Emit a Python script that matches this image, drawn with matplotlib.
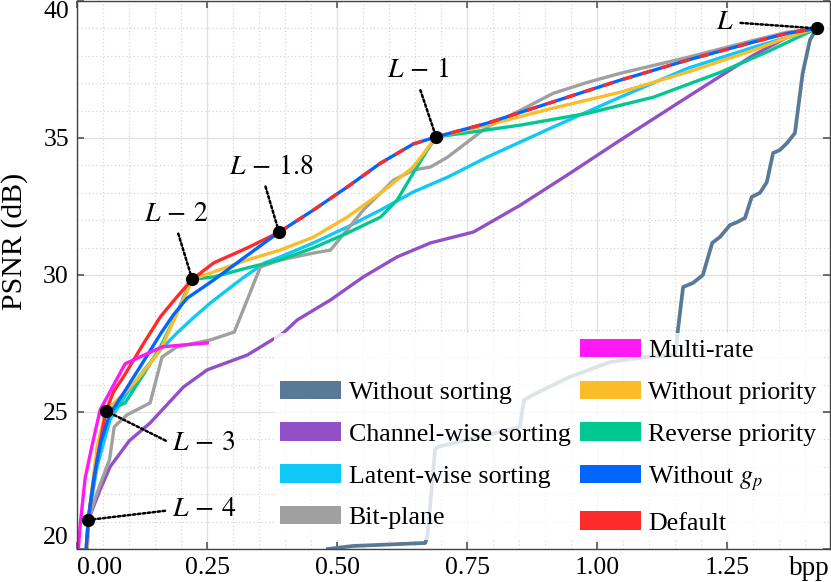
import numpy as np
import matplotlib
matplotlib.use("Agg")
import matplotlib.pyplot as plt
from matplotlib.patches import Patch

plt.rcParams['font.family'] = ['Liberation Serif', 'DejaVu Serif']
plt.rcParams['mathtext.fontset'] = 'stix'

# ---------------- data ----------------
default_x = [0.017, 0.021, 0.028, 0.038, 0.055, 0.070, 0.089, 0.128, 0.160, 0.192, 0.221,
             0.262, 0.327, 0.388, 0.454, 0.519, 0.583, 0.646, 0.690, 0.788, 0.915,
             1.044, 1.173, 1.300, 1.365, 1.422]
default_y = [20.0, 21.06, 22.04, 23.25, 25.04, 25.75, 26.29, 27.52, 28.48, 29.21, 29.84,
             30.44, 30.99, 31.56, 32.37, 33.21, 34.08, 34.78, 35.04, 35.54, 36.32,
             37.11, 37.84, 38.50, 38.82, 39.0]

gp_x = [0.017, 0.021, 0.032, 0.045, 0.062, 0.096, 0.129, 0.160, 0.185, 0.211, 0.261,
        0.327, 0.388, 0.454, 0.519, 0.583, 0.646, 0.690, 0.788, 0.915,
        1.044, 1.173, 1.300, 1.365, 1.422]
gp_y = [20.0, 21.06, 22.6, 23.9, 24.9, 25.9, 26.9, 27.85, 28.55, 29.15, 29.8,
        30.72, 31.56, 32.37, 33.21, 34.08, 34.78, 35.04, 35.54, 36.32,
        37.11, 37.84, 38.50, 38.82, 39.0]

nopri_x = [0.019, 0.021, 0.038, 0.055, 0.077, 0.115, 0.160, 0.192, 0.215, 0.221, 0.262,
           0.327, 0.390, 0.454, 0.519, 0.583, 0.646, 0.690, 0.788, 0.915, 1.044,
           1.173, 1.300, 1.365, 1.422]
nopri_y = [20.09, 21.06, 23.73, 25.04, 25.44, 26.17, 27.27, 28.62, 29.56, 29.84, 30.11,
           30.55, 30.91, 31.38, 32.11, 32.99, 33.94, 35.04, 35.47, 36.09, 36.67,
           37.40, 38.20, 38.67, 39.0]

revpri_x = [0.019, 0.021, 0.038, 0.055, 0.092, 0.129, 0.160, 0.192, 0.217, 0.221, 0.262,
            0.327, 0.390, 0.454, 0.519, 0.583, 0.615, 0.646, 0.673, 0.690, 0.756,
            0.852, 0.981, 1.108, 1.237, 1.333, 1.422]
revpri_y = [20.0, 21.06, 23.44, 25.04, 25.33, 26.43, 27.38, 28.62, 29.75, 29.84, 29.93,
            30.26, 30.55, 30.99, 31.53, 32.11, 32.73, 33.72, 34.56, 35.04, 35.21,
            35.47, 35.90, 36.49, 37.40, 38.20, 39.0]

latent_x = [0.019, 0.021, 0.038, 0.063, 0.096, 0.129, 0.160, 0.192, 0.225, 0.256, 0.288,
            0.321, 0.360, 0.390, 0.454, 0.519, 0.583, 0.646, 0.712, 0.788, 0.915,
            1.044, 1.173, 1.300, 1.365, 1.422]
latent_y = [20.0, 21.06, 23.0, 24.72, 25.70, 26.54, 27.27, 27.89, 28.47, 28.98, 29.45,
            29.93, 30.44, 30.66, 31.17, 31.75, 32.37, 33.03, 33.57, 34.30, 35.40,
            36.49, 37.54, 38.31, 38.67, 39.0]

bitplane_x = [0.019, 0.021, 0.038, 0.062, 0.071, 0.096, 0.140, 0.163, 0.192, 0.256, 0.302,
              0.352, 0.390, 0.454, 0.487, 0.550, 0.608, 0.646, 0.679, 0.712, 0.788,
              0.852, 0.915, 0.981, 1.044, 1.173, 1.300, 1.365, 1.422]
bitplane_y = [20.0, 21.06, 22.05, 23.26, 24.46, 24.90, 25.33, 27.01, 27.38, 27.63, 27.92,
              30.29, 30.55, 30.80, 30.91, 32.37, 33.46, 33.83, 33.94, 34.30, 35.40,
              36.01, 36.63, 37.03, 37.36, 37.94, 38.56, 38.86, 39.0]

channel_x = [0.021, 0.044, 0.063, 0.100, 0.140, 0.204, 0.250, 0.327, 0.396, 0.423, 0.487,
             0.550, 0.615, 0.679, 0.762, 0.852, 0.948, 1.044, 1.173, 1.300, 1.365, 1.422]
channel_y = [21.06, 22.17, 23.0, 23.95, 24.60, 25.91, 26.54, 27.08, 27.88, 28.36, 29.09,
             29.93, 30.66, 31.17, 31.57, 32.55, 33.72, 34.92, 36.49, 38.02, 38.67, 39.0]

multirate_x = [0.002, 0.006, 0.015, 0.029, 0.044, 0.092, 0.163, 0.250]
multirate_y = [20.0, 20.96, 22.58, 23.83, 25.08, 26.76, 27.38, 27.52]

nosort_x = [0.482, 0.530, 0.669, 0.673, 0.688, 0.692, 0.715, 0.851, 0.859, 0.880, 0.947,
            1.024, 1.094, 1.150, 1.155, 1.165, 1.184, 1.203, 1.221, 1.236, 1.255,
            1.269, 1.284, 1.297, 1.313, 1.326, 1.338, 1.351, 1.365, 1.380, 1.395,
            1.409, 1.422]
nosort_y = [20.0, 20.11, 20.22, 20.44, 23.61, 23.72, 23.83, 24.45, 25.44, 25.66, 26.28,
            26.82, 27.01, 27.08, 27.99, 29.56, 29.71, 30.0, 31.17, 31.39, 31.82,
            31.93, 32.08, 32.85, 33.0, 33.39, 34.45, 34.56, 34.82, 35.18, 37.37,
            38.58, 39.0]

point_labels = [r'$L$', r'$L\,-\,1$', r'$L\,-\,1.8$', r'$L\,-\,2$', r'$L\,-\,3$', r'$L\,-\,4$']
point_x = [1.422, 0.690, 0.388, 0.221, 0.055, 0.021]
point_y = [39.0, 35.04, 31.56, 29.84, 25.04, 21.06]

xticks = [0.0, 0.25, 0.5, 0.75, 1.0, 1.25]
yticks = [20, 25, 30, 35, 40]

# ---------------- styling ----------------
C_NOSORT = '#587a96'
C_CHAN = '#9150c8'
C_LAT = '#10c8f8'
C_BIT = '#a0a0a0'
C_MR = '#ff19f5'
C_NOPRI = '#fbbc2a'
C_REV = '#00c890'
C_GP = '#0066ff'
C_DEF = '#ff2a2a'
LW = 2.4

fig = plt.figure(figsize=(8.31, 5.82), dpi=100)
W, H = 831, 582
ax = fig.add_axes([77.3 / W, (H - 549) / H, (830 - 77.3) / W, 548 / H])

ax.set_xlim(0, 1.4475)
ax.set_ylim(20, 40)

ax.plot(nosort_x, nosort_y, color=C_NOSORT, lw=LW + 0.3, zorder=2)
ax.plot(channel_x, channel_y, color=C_CHAN, lw=LW, zorder=2)
ax.plot(latent_x, latent_y, color=C_LAT, lw=LW, zorder=2)
ax.plot(bitplane_x, bitplane_y, color=C_BIT, lw=LW, zorder=2)
ax.plot(revpri_x, revpri_y, color=C_REV, lw=LW, zorder=2)
ax.plot(nopri_x, nopri_y, color=C_NOPRI, lw=LW, zorder=2)

dx = np.array(default_x)
dy = np.array(default_y)
split = point_x[2]
low = dx <= split
high = dx >= split
ax.plot(dx[low], dy[low], color=C_DEF, lw=LW, zorder=2)
ax.plot(gp_x, gp_y, color=C_GP, lw=LW, zorder=2)
ax.plot(dx[high], dy[high], color=C_DEF, lw=LW, zorder=2, dashes=(3.0, 3.0))
ax.plot(multirate_x, multirate_y, color=C_MR, lw=LW, zorder=2)

ax.plot(point_x, point_y, 'o', color='black', ms=8.5, zorder=4)

# annotation offsets (pixels) and line anchor on text
offsets = [(-92, 6), (-18, 66), (-8, 65), (-16, 65), (98, -33), (116, 10)]
relpos = [(1.0, 0.5), (0.5, 0.0), (0.41, 0.0), (0.5, 0.0), (0.0, 0.5), (0.0, 0.5)]
for lab, px, py, off, rp in zip(point_labels, point_x, point_y, offsets, relpos):
    ax.annotate(lab, xy=(px, py), xytext=off, textcoords='offset pixels',
                ha='center', va='center', fontsize=20, zorder=4,
                arrowprops=dict(arrowstyle='-', linestyle=(0, (1, 1)), lw=1.8,
                                color='black', relpos=rp, shrinkA=3, shrinkB=0))

# grid and ticks
ax.set_xticks(xticks)
ax.set_yticks(yticks)
ax.set_xticks(np.arange(0, 1.45, 0.05), minor=True)
ax.set_yticks(np.arange(20, 40.5, 1), minor=True)
ax.set_xticklabels([f'{v:.2f}' for v in xticks])
ax.set_yticklabels([str(v) for v in yticks])
ax.grid(which='major', color='#e2e2e2', lw=1.0, ls='-')
ax.grid(which='minor', color='#d6d6d6', lw=0.9, ls=(0, (1, 2)))
ax.set_axisbelow(True)
ax.tick_params(which='major', direction='in', length=5, width=1.2, color='#555555',
               top=True, right=True, labelsize=18.5, pad=6)
ax.tick_params(which='minor', length=0)
for s in ax.spines.values():
    s.set_color('#444444')
    s.set_linewidth(1.0)

ylabs = ax.get_yticklabels()
ylabs[-1].set_verticalalignment('top')
ylabs[0].set_verticalalignment('bottom')
xlabs = ax.get_xticklabels()
xlabs[0].set_horizontalalignment('left')

ax.set_ylabel('PSNR (dB)', fontsize=21.5)
ax.yaxis.set_label_coords(-0.066, 0.562)
ax.set_xlabel('bpp', fontsize=19.5, loc='right')
ax.xaxis.set_label_coords(1.0, -0.012)

# legend
handles = [Patch(facecolor='none', edgecolor='none'),
           Patch(facecolor=C_NOSORT), Patch(facecolor=C_CHAN), Patch(facecolor=C_LAT),
           Patch(facecolor=C_BIT), Patch(facecolor=C_MR), Patch(facecolor=C_NOPRI),
           Patch(facecolor=C_REV), Patch(facecolor=C_GP), Patch(facecolor=C_DEF)]
labels = ['', 'Without sorting', 'Channel-wise sorting', 'Latent-wise sorting', 'Bit-plane',
          'Multi-rate', 'Without priority', 'Reverse priority', 'Without $g_p$', 'Default']
leg = ax.legend(handles, labels, ncol=2, loc='upper left',
                bbox_to_anchor=(274 / W, (H - 333) / H), bbox_transform=fig.transFigure,
                fontsize=18.7, frameon=True, framealpha=0.8, facecolor='white',
                edgecolor='none', fancybox=False, borderpad=0.22, labelspacing=0.72,
                handlelength=2.35, handleheight=0.7, handletextpad=0.3,
                columnspacing=0.35, borderaxespad=0)

fig.savefig('out.png', dpi=100)
